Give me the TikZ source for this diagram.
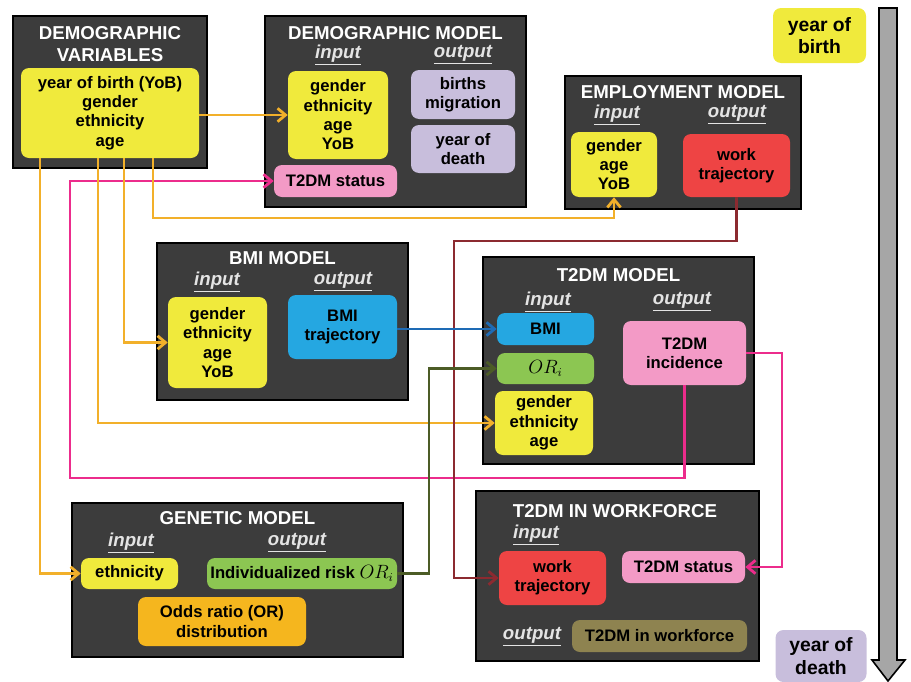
\documentclass[tikz,border=0pt]{standalone}
\usepackage{fontspec}
\setmainfont{Liberation Sans}
\usetikzlibrary{arrows.meta}
\definecolor{darkbg}{HTML}{3C3C3C}
\definecolor{yel}{HTML}{F0EA3C}
\definecolor{lav}{HTML}{C8BEDC}
\definecolor{pnk}{HTML}{F39AC6}
\definecolor{redc}{HTML}{EE4444}
\definecolor{blu}{HTML}{25A7E1}
\definecolor{grn}{HTML}{8CC652}
\definecolor{org}{HTML}{F5B61E}
\definecolor{olv}{HTML}{8E8350}
\definecolor{lgray}{HTML}{E4E4E4}
\definecolor{oline}{HTML}{F2B02A}
\definecolor{pline}{HTML}{EC2C8C}
\definecolor{rline}{HTML}{8C2A30}
\definecolor{bline}{HTML}{1E6BB5}
\definecolor{gline}{HTML}{4C5C26}
\definecolor{tgray}{HTML}{A6A6A6}
\begin{document}
\begin{tikzpicture}[x=0.75pt,y=-0.75pt,
  sz/.style 2 args={minimum width=#1*0.75pt,minimum height=#2*0.75pt},
  panel/.style={draw=black,line width=1.5pt,fill=darkbg,inner sep=0pt},
  cell/.style={rounded corners=6pt,inner sep=0pt,align=center,text=black,
    font=\bfseries\fontsize{12.5}{14.5}\selectfont},
  bigcell/.style={cell,font=\bfseries\fontsize{14.5}{17}\selectfont},
  ttl/.style={text=white,font=\bfseries\fontsize{14}{16.5}\selectfont,align=center,inner sep=0pt},
  io/.style={text=lgray,font=\bfseries\itshape\fontsize{14}{16}\selectfont,inner sep=0pt},
  conn/.style={line width=2.1pt,-{Straight Barb[length=6pt,width=10pt]}},
]
\useasboundingbox (0,0) rectangle (911,682);

% ---------- timeline ----------
\draw[line width=1.2pt,fill=tgray] (879,8) -- (897,8) -- (897,660) -- (905,660)
  -- (888,681) -- (872,660) -- (879,660) -- cycle;
\node[bigcell,fill=yel,sz={93}{55}] (yob) at (819.5,35.5) {year of\\birth};
\node[bigcell,fill=lav,sz={91}{52}] (yod) at (821,656) {year of\\death};

% ---------- demographic variables ----------
\node[panel,sz={194}{152}] (dv) at (110,92) {};
\node[ttl] (dvt) at (110,44) {DEMOGRAPHIC\\VARIABLES};
\node[cell,fill=yel,sz={178}{90}] (dvy) at (110,113) {year of birth (YoB)\\gender\\ethnicity\\age};

% ---------- demographic model ----------
\node[panel,sz={261}{191}] (dm) at (395.5,111.5) {};
\node[ttl] (dmt) at (395.5,33) {DEMOGRAPHIC MODEL};
\node[io] (dmi) at (338,55) {\underline{input}};
\node[io] (dmo) at (463,55) {\underline{output}};
\node[cell,fill=yel,sz={100}{88}] (dmy) at (338,115) {gender\\ethnicity\\age\\YoB};
\node[cell,fill=lav,sz={104}{49}] (dmb) at (463,94.5) {births\\migration};
\node[cell,fill=lav,sz={104}{48}] (dmd) at (463,149) {year of\\death};
\node[cell,fill=pnk,sz={123}{32}] (dms) at (335.5,181) {T2DM status};

% ---------- employment model ----------
\node[panel,sz={236}{133}] (em) at (683,142.5) {};
\node[ttl] (emt) at (683,92) {EMPLOYMENT MODEL};
\node[io] (emi) at (617,115) {\underline{input}};
\node[io] (emo) at (737,115) {\underline{output}};
\node[cell,fill=yel,sz={86}{65}] (emy) at (614,164.5) {gender\\age\\YoB};
\node[cell,fill=redc,sz={107}{63}] (emr) at (736.5,165.5) {work\\trajectory};

% ---------- BMI model ----------
\node[panel,sz={251}{157}] (bm) at (282.5,321.5) {};
\node[ttl] (bmt) at (282.5,258) {BMI MODEL};
\node[io] (bmi) at (217,282) {\underline{input}};
\node[io] (bmo) at (343,282) {\underline{output}};
\node[cell,fill=yel,sz={99}{91}] (bmy) at (217.5,342.5) {gender\\ethnicity\\age\\YoB};
\node[cell,fill=blu,sz={109}{64}] (bmb) at (342.5,327) {BMI\\trajectory};

% ---------- T2DM model ----------
\node[panel,sz={271}{207}] (tm) at (618.5,360.5) {};
\node[ttl] (tmt) at (618.5,275) {T2DM MODEL};
\node[io] (tmi) at (548,302) {\underline{input}};
\node[io] (tmo) at (682,302) {\underline{output}};
\node[cell,fill=blu,sz={97}{32}] (tmb) at (545.5,329) {BMI};
\node[cell,fill=grn,sz={97}{31},font=\fontsize{13.5}{15}\selectfont] (tmr) at (545.5,368.5) {$OR_i$};
\node[cell,fill=yel,sz={98}{64}] (tmy) at (544,423) {gender\\ethnicity\\age};
\node[cell,fill=pnk,sz={123}{64}] (tmc) at (684.5,353) {T2DM\\incidence};

% ---------- genetic model ----------
\node[panel,sz={331}{154}] (gm) at (237.5,580) {};
\node[ttl] (gmt) at (237.5,518) {GENETIC MODEL};
\node[io] (gmi) at (131,543) {\underline{input}};
\node[io] (gmo) at (297,543) {\underline{output}};
\node[cell,fill=yel,sz={97}{31}] (gmy) at (129.5,573.5) {ethnicity};
\node[cell,fill=grn,sz={190}{31}] (gmg) at (302,573.5) {Individualized risk {\fontsize{13.5}{15}\selectfont$OR_i$}};
\node[cell,fill=org,sz={168}{49}] (gmo2) at (222,621.5) {Odds ratio (OR)\\distribution};

% ---------- T2DM in workforce ----------
\node[panel,sz={283}{170}] (wf) at (617.5,576) {};
\node[ttl] (wft) at (615,511) {T2DM IN WORKFORCE};
\node[io] (wfi) at (536,535) {\underline{input}};
\node[io] (wfo) at (532,637) {\underline{output}};
\node[cell,fill=redc,sz={107}{54}] (wfr) at (552.5,578) {work\\trajectory};
\node[cell,fill=pnk,sz={123}{32}] (wfs) at (683.5,567) {T2DM status};
\node[cell,fill=olv,sz={175}{32}] (wfw) at (659.5,636) {T2DM in workforce};

% ---------- routing coordinates ----------
\coordinate (xa) at (40,0);
\coordinate (xb) at (98,0);
\coordinate (xc) at (124,0);
\coordinate (xd) at (153,0);
\coordinate (yd) at (0,218);
\coordinate (xp) at (70,0);
\coordinate (yp) at (0,478);
\coordinate (xq) at (782,0);
\coordinate (xr) at (454,0);
\coordinate (yr) at (0,241);
\coordinate (xg) at (429,0);

% ---------- connectors ----------
\draw[conn,pline] (tmc.south) -- (tmc.south |- yp) -| (xp |- dms.west) -- (dms.west);
\draw[conn,pline] (tmc.east) -- (xq |- tmc.east) |- (wfs.east);
\draw[conn,oline] (dvy.east |- dmy.west) -- (dmy.west);
\draw[conn,oline] (dvy.south -| xa) |- (gmy.west);
\draw[conn,oline] (dvy.south -| xb) |- (tmy.west);
\draw[conn,oline] (dvy.south -| xc) |- (bmy.west);
\draw[conn,oline] (dvy.south -| xd) -- (xd |- yd) -| (emy.south);
\draw[conn,rline] (emr.south) -- (emr.south |- yr) -| (xr |- wfr.west) -- (wfr.west);
\draw[conn,bline] (bmb.east |- tmb.west) -- (tmb.west);
\draw[conn,gline] (gmg.east) -- (xg |- gmg.east) |- (tmr.west);
\end{tikzpicture}
\end{document}
